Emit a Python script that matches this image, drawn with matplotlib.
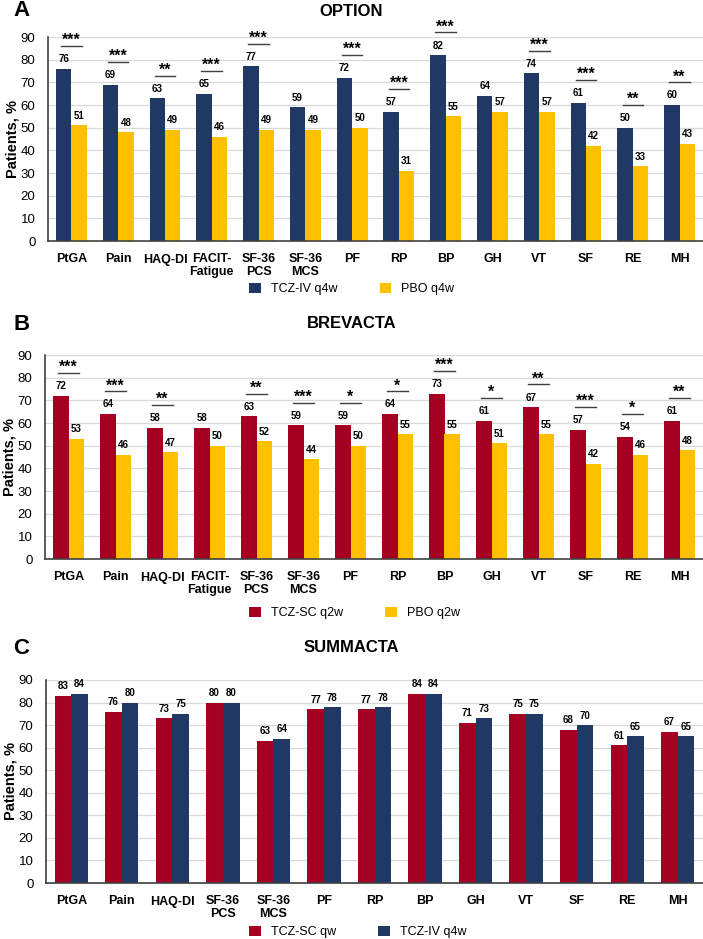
#!/usr/bin/env python3
"""Three-panel grouped bar chart: patients reporting improvement (OPTION, BREVACTA, SUMMACTA)."""

import matplotlib

matplotlib.use("Agg")
import matplotlib.pyplot as plt  # noqa: E402
import numpy as np  # noqa: E402

plt.rcParams["font.family"] = ["Liberation Sans", "DejaVu Sans"]

CATS_AB = ["PtGA", "Pain", "HAQ-DI", "FACIT-\nFatigue", "SF-36\nPCS", "SF-36\nMCS",
           "PF", "RP", "BP", "GH", "VT", "SF", "RE", "MH"]
CATS_C = ["PtGA", "Pain", "HAQ-DI", "SF-36\nPCS", "SF-36\nMCS",
          "PF", "RP", "BP", "GH", "VT", "SF", "RE", "MH"]

OPTION_TCZ = [76, 69, 63, 65, 77, 59, 72, 57, 82, 64, 74, 61, 50, 60]
OPTION_PBO = [51, 48, 49, 46, 49, 49, 50, 31, 55, 57, 57, 42, 33, 43]
OPTION_SIG = ["***", "***", "**", "***", "***", "", "***", "***", "***", "", "***", "***", "**", "**"]

BREV_TCZ = [72, 64, 58, 58, 63, 59, 59, 64, 73, 61, 67, 57, 54, 61]
BREV_PBO = [53, 46, 47, 50, 52, 44, 50, 55, 55, 51, 55, 42, 46, 48]
BREV_SIG = ["***", "***", "**", "", "**", "***", "*", "*", "***", "*", "**", "***", "*", "**"]

SUMM_SC = [83, 76, 73, 80, 63, 77, 77, 84, 71, 75, 68, 61, 67]
SUMM_IV = [84, 80, 75, 80, 64, 78, 78, 84, 73, 75, 70, 65, 65]

NAVY = "#1F3864"
GOLD = "#FFC000"
RED = "#A50021"


def panel(fig, rect, cats, s1, s2, names, colors, sig, title, letter, title_y, leg_y):
    ax = fig.add_axes(rect)
    x = np.arange(len(cats))
    w = 0.33
    b1 = ax.bar(x - w / 2, s1, w, color=colors[0], zorder=2)
    b2 = ax.bar(x + w / 2, s2, w, color=colors[1], zorder=2)
    for xi, v in zip(x - w / 2, s1):
        ax.text(xi, v + 2, str(v), ha="center", va="bottom", fontsize=7, fontweight="bold")
    for xi, v in zip(x + w / 2, s2):
        ax.text(xi, v + 2, str(v), ha="center", va="bottom", fontsize=7, fontweight="bold")
    if sig is not None:
        for xi, a, b, s in zip(x, s1, s2, sig):
            if not s:
                continue
            y = max(a, b) + 10
            ax.plot([xi - 0.22, xi + 0.22], [y, y], color="#404040", lw=1, clip_on=False)
            ax.text(xi, y + 0.4, s, ha="center", va="baseline", fontsize=11.5,
                    fontweight="bold", clip_on=False)
    ax.set_xlim(-0.5, len(cats) - 0.5)
    ax.set_ylim(0, 90)
    ax.set_yticks(range(0, 91, 10))
    ax.set_xticks(x)
    ax.set_xticklabels(cats, fontsize=9, fontweight="bold", linespacing=1.1)
    ax.tick_params(axis="both", length=0, labelsize=9.5)
    ax.tick_params(axis="x", pad=9, labelsize=9)
    ax.tick_params(axis="y", pad=9)
    ax.yaxis.grid(True, color="#D9D9D9", lw=0.9, zorder=0)
    ax.set_axisbelow(True)
    for sp in ("top", "right"):
        ax.spines[sp].set_visible(False)
    for sp in ("left", "bottom"):
        ax.spines[sp].set_color("#404040")
        ax.spines[sp].set_linewidth(1.2)
    ax.set_ylabel("Patients, %", fontsize=10.5, fontweight="bold")
    ax.yaxis.set_label_coords(-0.043, 0.5)
    fig.text(0.5, title_y, title, ha="center", va="center", fontsize=12, fontweight="bold")
    fig.text(0.03, title_y, letter, ha="center", va="center", fontsize=16, fontweight="bold")
    ax.legend([b1, b2], names, loc="center left", bbox_to_anchor=(0.346, leg_y),
              bbox_transform=fig.transFigure, ncol=2, frameon=False, fontsize=9,
              handlelength=0.9, handleheight=0.9, handletextpad=0.8,
              columnspacing=3.4, borderpad=0)
    return ax


def main():
    W, H = 703, 939
    fig = plt.figure(figsize=(W / 100, H / 100), dpi=100)

    def rect(left, top, bottom, right=703):
        return [left / W, 1 - bottom / H, (right - left) / W, (bottom - top) / H]

    panel(fig, rect(48, 37, 241), CATS_AB, OPTION_TCZ, OPTION_PBO,
          ["TCZ-IV q4w", "PBO q4w"], [NAVY, GOLD], OPTION_SIG,
          "OPTION", "A", 1 - 11 / H, 1 - 289 / H)
    panel(fig, rect(45, 355, 559), CATS_AB, BREV_TCZ, BREV_PBO,
          ["TCZ-SC q2w", "PBO q2w"], [RED, GOLD], BREV_SIG,
          "BREVACTA", "B", 1 - 324 / H, 1 - 613 / H)
    panel(fig, rect(46, 680, 883), CATS_C, SUMM_SC, SUMM_IV,
          ["TCZ-SC qw", "TCZ-IV q4w"], [RED, NAVY], None,
          "SUMMACTA", "C", 1 - 648 / H, 1 - 932 / H)

    fig.savefig("out.png", dpi=100)


if __name__ == "__main__":
    main()
